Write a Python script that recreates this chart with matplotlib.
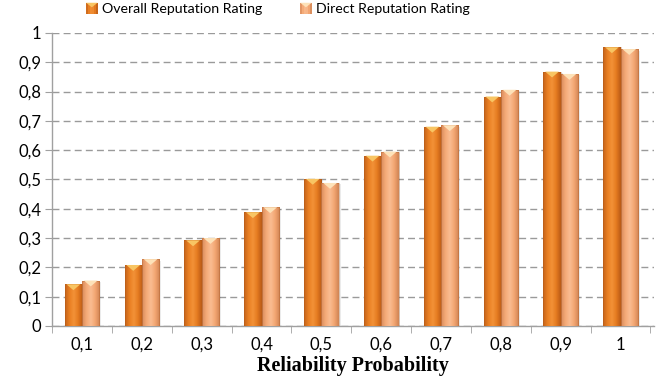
import numpy as np
import matplotlib.pyplot as plt
from matplotlib.colors import LinearSegmentedColormap
from matplotlib.patches import Polygon, Rectangle
from matplotlib.legend_handler import HandlerBase

categories = ["0,1", "0,2", "0,3", "0,4", "0,5", "0,6", "0,7", "0,8", "0,9", "1"]
overall = [0.142, 0.208, 0.292, 0.388, 0.502, 0.581, 0.680, 0.783, 0.868, 0.951]
direct = [0.155, 0.228, 0.300, 0.405, 0.488, 0.595, 0.685, 0.806, 0.860, 0.945]
yticks = np.arange(0, 1.01, 0.1)
ytick_labels = ["0", "0,1", "0,2", "0,3", "0,4", "0,5", "0,6", "0,7", "0,8", "0,9", "1"]

# cylinder-like shading across each bar: edge -> highlight -> edge
cmap_overall = LinearSegmentedColormap.from_list(
    "ov", ["#c4631a", "#e97f22", "#f39238", "#e47a1f", "#b85a17"])
cmap_direct = LinearSegmentedColormap.from_list(
    "dr", ["#d98b5c", "#f5ab78", "#fabd92", "#f2a571", "#cf8454"])
cap_overall = "#f8c563"
cap_direct = "#fde2b9"

plt.rcParams['font.family'] = ['Lato', 'DejaVu Sans']

fig = plt.figure(figsize=(6.6, 3.83), dpi=100)
ax = fig.add_axes([0.079, 0.149, 0.912, 0.765])

x = np.arange(len(categories))
w = 0.29
grad = np.linspace(0, 1, 64).reshape(1, -1)


def shaded_bars(xs, heights, cmap, cap):
    bars = ax.bar(xs, heights, width=w, color="none", edgecolor="none", zorder=3)
    for b in bars:
        x0, y0 = b.get_x(), b.get_y()
        bw, bh = b.get_width(), b.get_height()
        # soft shadow to the right
        ax.add_patch(Rectangle((x0 + 0.03, y0), bw, bh - 0.005, facecolor="#000000",
                               alpha=0.08, edgecolor="none", zorder=2))
        im = ax.imshow(grad, cmap=cmap, aspect="auto", extent=[x0, x0 + bw, y0, y0 + bh],
                       zorder=3, interpolation="bicubic")
        im.set_clip_path(b)
        ax.add_patch(Rectangle((x0, y0), bw, bh, fill=False, edgecolor="#a4521a",
                               linewidth=0.4, alpha=0.5, zorder=4))
        # bevelled top
        ch = 0.02
        ax.add_patch(Polygon([[x0 + 0.03, y0 + bh], [x0 + bw - 0.03, y0 + bh],
                              [x0 + bw / 2, y0 + bh - ch]],
                             closed=True, facecolor=cap, edgecolor="none", zorder=5))
    return bars


shaded_bars(x - w / 2, overall, cmap_overall, cap_overall)
shaded_bars(x + w / 2, direct, cmap_direct, cap_direct)

ax.set_xlim(-0.5, len(categories) - 0.5 + 0.06)
ax.set_ylim(0, 1)
ax.set_yticks(yticks)
ax.set_yticklabels(ytick_labels)
ax.set_xticks(x)
ax.set_xticklabels(categories)
ax.set_xticks(np.arange(-0.5, len(categories), 1.0), minor=True)
ax.tick_params(axis="x", which="major", length=0, pad=8, labelsize=12)
ax.tick_params(axis="x", which="minor", length=5, color="#a0a0a0", direction="out")
ax.tick_params(axis="y", length=5, color="#a0a0a0", direction="out", pad=3, labelsize=12)

ax.grid(axis="y", linestyle=(0, (5, 3)), color="#9a9a9a", linewidth=1.0, zorder=0)
ax.set_axisbelow(True)
for s in ["top", "right"]:
    ax.spines[s].set_visible(False)
for s in ["left", "bottom"]:
    ax.spines[s].set_color("#a0a0a0")
    ax.spines[s].set_linewidth(1.0)

ax.set_xlabel("Reliability Probability", family="Liberation Serif", fontweight="bold",
              fontsize=14.5, labelpad=2)


class GradientSquare(HandlerBase):
    def __init__(self, cmap, cap):
        super().__init__()
        self.cmap, self.cap = cmap, cap

    def create_artists(self, legend, orig_handle, xdescent, ydescent, width, height,
                       fontsize, trans):
        s = height * 1.15
        x0 = xdescent + width - s
        y0 = -ydescent - 0.1 * height
        arts = []
        n = 6
        for i in range(n):
            arts.append(Rectangle((x0 + i * s / n, y0), s / n, s,
                                  facecolor=self.cmap((i + 0.5) / n), edgecolor="none",
                                  transform=trans))
        arts.append(Polygon([[x0, y0 + s], [x0 + s, y0 + s],
                             [x0 + s / 2, y0 + s * 0.6]], facecolor=self.cap,
                            edgecolor="none", transform=trans))
        return arts


h1, h2 = object(), object()
fig.legend([h1, h2], ["Overall Reputation Rating", "Direct Reputation Rating"],
           handler_map={h1: GradientSquare(cmap_overall, cap_overall),
                        h2: GradientSquare(cmap_direct, cap_direct)},
           loc="upper center", bbox_to_anchor=(0.42, 1.025), ncol=2, frameon=False,
           fontsize=10.2, handlelength=0.9, handletextpad=0.3, columnspacing=2.6)

fig.savefig("out.png", dpi=100)
